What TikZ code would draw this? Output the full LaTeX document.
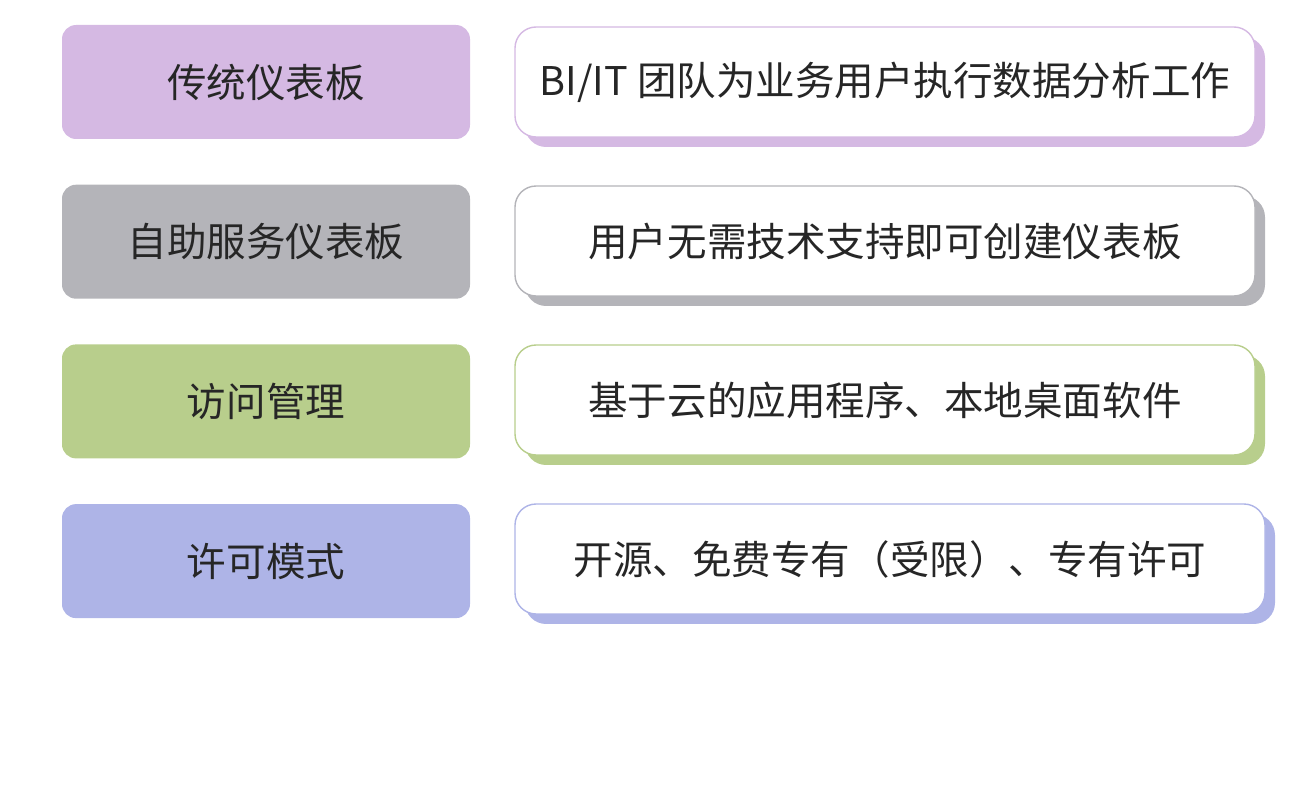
\documentclass[tikz,border=0pt]{standalone}
\usepackage{fontspec}
\setmainfont{Noto Sans CJK SC}
\usetikzlibrary{positioning}
\definecolor{catpurple}{HTML}{D5B9E3}
\definecolor{catgray}{HTML}{B4B4B9}
\definecolor{catgreen}{HTML}{B8CE8C}
\definecolor{catblue}{HTML}{AEB4E7}
\tikzset{
  cat/.style={rectangle,rounded corners=8pt,minimum width=8.16cm,minimum height=2.28cm,font=\fontsize{22.5}{27}\selectfont,text=black!85},
  desc/.style={rectangle,rounded corners=12pt,fill=white,thick,minimum width=14.8cm,minimum height=2.2cm,font=\fontsize{22.5}{27}\selectfont,text=black!85},
  shade/.style={rectangle,rounded corners=12pt,minimum width=14.8cm,minimum height=2.2cm},
}
\begin{document}
\begin{tikzpicture}
    \useasboundingbox (0,0) rectangle (26.08,-16);
    \node[cat,fill=catpurple] (A) at (5.32,-1.64) {传统仪表板};
    \node[cat,fill=catgray,below=0.9cm of A] (B) {自助服务仪表板};
    \node[cat,fill=catgreen,below=0.9cm of B] (C) {访问管理};
    \node[cat,fill=catblue,below=0.9cm of C] (D) {许可模式};
    % shadows first, then the white boxes
    \node[shade,fill=catpurple] (As) at (17.9,-1.84) {};
    \node[shade,fill=catgray] (Bs) at (17.9,-5.02) {};
    \node[shade,fill=catgreen] (Cs) at (17.9,-8.2) {};
    \node[shade,fill=catblue,minimum width=15cm] (Ds) at (18.0,-11.38) {};
    \node[desc,draw=catpurple] (E) at (17.7,-1.64) {BI/IT 团队为业务用户执行数据分析工作};
    \node[desc,draw=catgray] (F) at (17.7,-4.82) {用户无需技术支持即可创建仪表板};
    \node[desc,draw=catgreen] (G) at (17.7,-8.0) {基于云的应用程序、本地桌面软件};
    \node[desc,draw=catblue,minimum width=15cm] (H) at (17.8,-11.18) {开源、免费专有（受限）、专有许可};
\end{tikzpicture}
\end{document}
